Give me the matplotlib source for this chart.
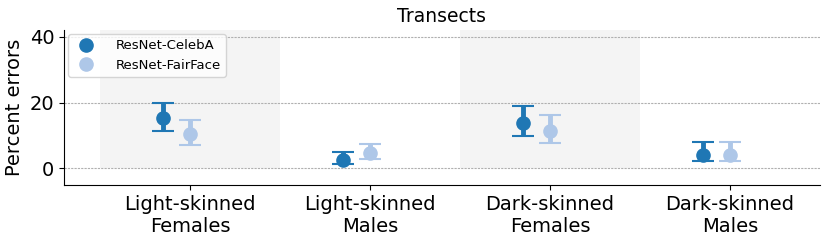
import numpy as np
import matplotlib
matplotlib.use("Agg")
import matplotlib.pyplot as plt

categories = ["Light-skinned\nFemales", "Light-skinned\nMales", "Dark-skinned\nFemales", "Dark-skinned\nMales"]
models = ["ResNet-CelebA", "ResNet-FairFace"]
colors = ["#1f77b4", "#aec7e8"]
# point estimates and interval ends, percent errors
celeba_mean = [15.2, 2.5, 13.7, 4.2]
celeba_low = [11.4, 1.3, 9.9, 2.2]
celeba_high = [20.0, 5.0, 19.0, 7.9]
fairface_mean = [10.4, 4.7, 11.4, 4.2]
fairface_low = [7.1, 2.8, 7.7, 2.2]
fairface_high = [14.6, 7.4, 16.2, 7.9]
offsets = [-0.15, 0.0]
shaded = [0, 2]

fig = plt.figure(figsize=(8.3, 2.42), dpi=100)
ax = fig.add_axes([0.077, 0.236, 0.911, 0.64])
x = np.arange(len(categories))

# gray background behind the female groups
for i in shaded:
    ax.bar(x[i], 60, width=1.0, bottom=0, color="#f4f4f4", zorder=0)

for mean, low, high, name, c, off in zip([celeba_mean, fairface_mean], [celeba_low, fairface_low],
                                        [celeba_high, fairface_high], models, colors, offsets):
    mean = np.array(mean)
    err = [mean - np.array(low), np.array(high) - mean]
    ax.errorbar(x + off, mean, yerr=err, fmt="o", color=c, ms=9.5, elinewidth=3.5,
                capsize=8, capthick=1.5, label=name, zorder=3)

ax.set_yticks([0, 20, 40])
ax.yaxis.grid(True, linestyle=(0, (2, 1)), color="#b0b0b0", linewidth=0.8)
ax.set_axisbelow(True)
ax.set_ylim(-5, 42)
ax.set_xlim(-0.7, 3.5)
ax.set_xticks(x)
ax.set_xticklabels(categories, fontsize=14)
ax.tick_params(axis="y", labelsize=14)
ax.set_ylabel("Percent errors", fontsize=14)
ax.set_title("Transects", fontsize=13.5)
ax.spines["top"].set_visible(False)
ax.spines["right"].set_visible(False)

h, l = ax.get_legend_handles_labels()
h = [hh[0] for hh in h]
ax.legend(h, l, loc="upper left", fontsize=9.5, handletextpad=1.2, borderaxespad=0.3)

fig.savefig("out.png")
